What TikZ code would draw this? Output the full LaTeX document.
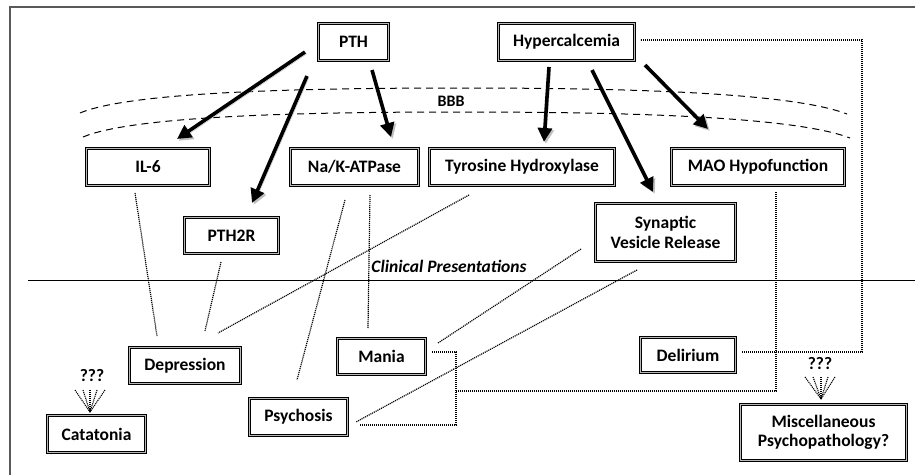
\documentclass[tikz,border=0pt]{standalone}
\usepackage{fontspec}
\setmainfont{Carlito}
\usetikzlibrary{arrows.meta,shadows}
\begin{document}
\begin{tikzpicture}[x=1pt,y=-1pt,
  box/.style={draw=black, line width=1pt, double=gray!55, double distance=1.1pt,
    fill=white, font=\bfseries\fontsize{17.5}{19.5}\selectfont, align=center, inner sep=0pt,
    drop shadow={opacity=0.35, shadow xshift=1.5pt, shadow yshift=-1.5pt}},
  bigarrow/.style={line width=3.6pt, -{Triangle[length=14pt,width=14pt]},
    preaction={draw=black!25, transform canvas={xshift=1.8pt,yshift=-1.8pt}}},
  dotline/.style={line width=1.2pt, dash pattern=on 1.1pt off 0.9pt},
  fanline/.style={line width=1.1pt, dash pattern=on 1.1pt off 0.9pt},
  lbl/.style={font=\bfseries\fontsize{17.5}{19}\selectfont, inner sep=0pt}
]
\useasboundingbox (0,0) rectangle (915,474);
% frame
\draw[line width=1.5pt, black!65] (10,480) -- (10,7) -- (925,7);
% BBB curves
\draw[line width=1pt, dash pattern=on 7pt off 5pt] (80,113) .. controls (130,92) and (300,88) .. (460,88) .. controls (620,88) and (790,92) .. (847,114);
\draw[line width=1pt, dash pattern=on 7pt off 5pt] (83,137) .. controls (133,116) and (300,112) .. (460,112) .. controls (620,112) and (793,116) .. (850,138);
\node[lbl, font=\bfseries\fontsize{16}{18}\selectfont] (bbb) at (451,101) {BBB};
% separator
\draw[line width=1pt] (28,280) -- (915,280);
\node[lbl, font=\bfseries\itshape\fontsize{17.5}{19}\selectfont] (clin) at (449,266) {Clinical Presentations};

% nodes
\node[box, minimum width=70, minimum height=37] (pth) at (353.5,42) {PTH};
\node[box, minimum width=136, minimum height=37] (hyper) at (566.5,42) {Hypercalcemia};
\node[box, minimum width=123, minimum height=37] (il6) at (148,167) {IL-6};
\node[box, minimum width=128, minimum height=37] (nak) at (354.5,167) {Na/K-ATPase};
\node[box, minimum width=185, minimum height=37] (tyr) at (522,167) {Tyrosine Hydroxylase};
\node[box, minimum width=173, minimum height=37] (mao) at (758,167) {MAO Hypofunction};
\node[box, minimum width=94, minimum height=36] (pth2r) at (231.5,235.5) {PTH2R};
\node[box, minimum width=140, minimum height=58] (syn) at (665.5,232.5) {Synaptic\\Vesicle Release};
\node[box, minimum width=111, minimum height=36] (dep) at (185,365.5) {Depression};
\node[box, minimum width=98, minimum height=37] (cat) at (96.5,434) {Catatonia};
\node[box, minimum width=98, minimum height=37] (psy) at (298.5,417) {Psychosis};
\node[box, minimum width=88, minimum height=36] (mania) at (381.5,356.5) {Mania};
\node[box, minimum width=95, minimum height=35] (del) at (688,355) {Delirium};
\node[box, minimum width=166, minimum height=56] (misc) at (823.5,432.5) {Miscellaneous\\Psychopathology?};

% arrow end coordinates
\coordinate (a1s) at (305,52);  \coordinate (a1e) at (177,139);
\coordinate (a2s) at (307,76);  \coordinate (a2e) at (252,203);
\coordinate (a3s) at (372,70);  \coordinate (a3e) at (391,137);
\coordinate (b1s) at (549,67);  \coordinate (b1e) at (544,142);
\coordinate (b2s) at (592,70);  \coordinate (b2e) at (653,192);
\coordinate (b3s) at (645,65);  \coordinate (b3e) at (708,129);
\draw[bigarrow] (a1s) -- (a1e);
\draw[bigarrow] (a2s) -- (a2e);
\draw[bigarrow] (a3s) -- (a3e);
\draw[bigarrow] (b1s) -- (b1e);
\draw[bigarrow] (b2s) -- (b2e);
\draw[bigarrow] (b3s) -- (b3e);

% dotted connectors
\coordinate (il6o) at (135,193);   \coordinate (depi1) at (157,336);
\coordinate (pth2ro) at (221,262); \coordinate (depi2) at (205,331);
\coordinate (tyro) at (469,195);   \coordinate (depi3) at (218,333);
\coordinate (nako1) at (345,200);  \coordinate (psyi1) at (297,380);
\coordinate (nako2) at (370,195);  \coordinate (mani1) at (368,328);
\coordinate (syno1) at (581,249);  \coordinate (mani2) at (438,343);
\coordinate (syno2) at (637,270);  \coordinate (psyi2) at (356,422);
\draw[dotline] (il6o) -- (depi1);
\draw[dotline] (pth2ro) -- (depi2);
\draw[dotline] (tyro) -- (depi3);
\draw[dotline] (nako1) -- (psyi1);
\draw[dotline] (nako2) -- (mani1);
\draw[dotline] (syno1) -- (mani2);
\draw[dotline] (syno2) -- (psyi2);
% elbows
\coordinate (mano) at (432,352); \coordinate (psyo) at (360,425);
\draw[dotline] (mano) -- (456,352) -- (456,425) -- (psyo);
\coordinate (maoo) at (776,192);
\draw[dotline] (maoo) -- (776,391) -- (456,391);
\coordinate (delo) at (742,352); \coordinate (hypo) at (640,40);
\draw[dotline] (delo) -- (862,352) -- (862,40) -- (hypo);

% question marks
\node[lbl] (q1) at (92,376) {???};
\node[lbl] (q2) at (820,364) {???};
\coordinate (f1) at (90,412);
\foreach \x in {75,83,90,97,105} \draw[fanline] (\x,390) -- (f1);
\coordinate (f2) at (821,399);
\foreach \x in {805,813,821,828,835} \draw[fanline] (\x,377) -- (f2);
\end{tikzpicture}
\end{document}
